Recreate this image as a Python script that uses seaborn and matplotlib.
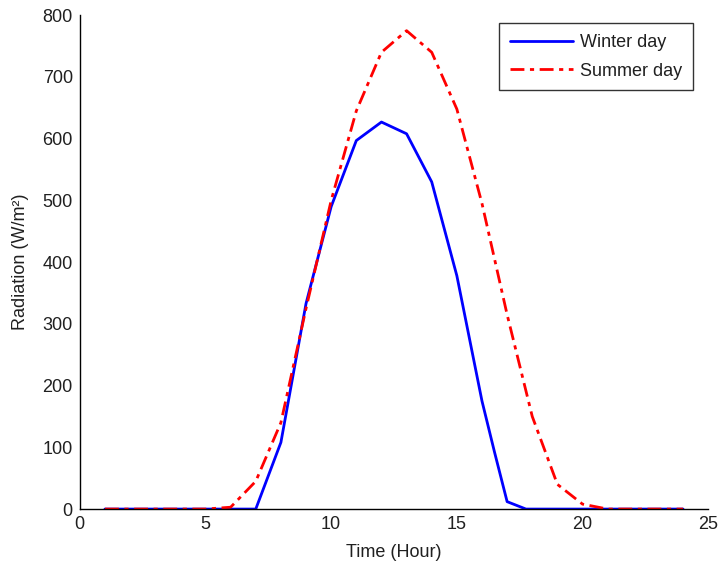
import pandas as pd
import seaborn as sns
import matplotlib
matplotlib.use("Agg")
import matplotlib.pyplot as plt

# hourly radiation readings (W/m2)
winter_hours = [1, 2, 3, 4, 5, 6, 7, 8, 9, 10, 11, 12, 13, 14, 15, 16, 16.5, 17, 17.75,
                18, 19, 20, 21, 22, 23, 24]
winter_vals = [0, 0, 0, 0, 0, 0, 0, 108, 333, 490, 597, 627, 608, 530, 378, 175, 92, 12, 0,
               0, 0, 0, 0, 0, 0, 0]

summer_hours = [1, 2, 3, 4, 5, 6, 7, 8, 9, 10, 11, 12, 13, 14, 15, 16, 17, 18, 19, 20,
                21, 22, 23, 24]
summer_vals = [0, 0, 0, 0, 0, 3, 45, 140, 325, 500, 645, 740, 775, 740, 648, 495, 315, 150,
               40, 8, 0, 0, 0, 0]

x_ticks = [0, 5, 10, 15, 20, 25]
y_ticks = [0, 100, 200, 300, 400, 500, 600, 700, 800]

sns.set_style("white")
plt.rcParams['font.family'] = ['Liberation Sans', 'DejaVu Sans']
plt.rcParams['xtick.direction'] = 'in'
plt.rcParams['ytick.direction'] = 'in'
txt = '#202020'
fs = 13

winter = pd.DataFrame({'hour': winter_hours, 'rad': winter_vals})
summer = pd.DataFrame({'hour': summer_hours, 'rad': summer_vals})

fig = plt.figure(figsize=(7.19, 5.65), dpi=100)
ax = fig.add_axes([0.111, 0.099, 0.874, 0.874])

sns.lineplot(data=winter, x='hour', y='rad', ax=ax, color=(0, 0, 1), linewidth=2,
             label='Winter day')
sns.lineplot(data=summer, x='hour', y='rad', ax=ax, color=(1, 0, 0), linewidth=2,
             linestyle=(0, (5, 2, 1.5, 2)), label='Summer day')

ax.set_xlim(0, 25)
ax.set_ylim(0, 800)
ax.set_xticks(x_ticks)
ax.set_yticks(y_ticks)
ax.tick_params(labelsize=fs, length=5, width=1, color='black', labelcolor=txt, pad=5)
sns.despine(ax=ax)
for s in ['left', 'bottom']:
    ax.spines[s].set_color('black')
    ax.spines[s].set_linewidth(1)

ax.set_xlabel('Time (Hour)', fontsize=fs, labelpad=8, color=txt)
ax.set_ylabel('Radiation (W/m²)', fontsize=fs, labelpad=10, color=txt)

leg = ax.legend(loc='upper right', bbox_to_anchor=(693 / 719, 1 - 23 / 565),
                bbox_transform=fig.transFigure, borderaxespad=0,
                fontsize=fs, handlelength=3.5, handletextpad=0.4, frameon=True,
                fancybox=False, borderpad=0.6, labelspacing=0.65)
leg.get_frame().set_edgecolor('black')
leg.get_frame().set_linewidth(1)
for t in leg.get_texts():
    t.set_color(txt)

fig.savefig('out.png', dpi=100)
